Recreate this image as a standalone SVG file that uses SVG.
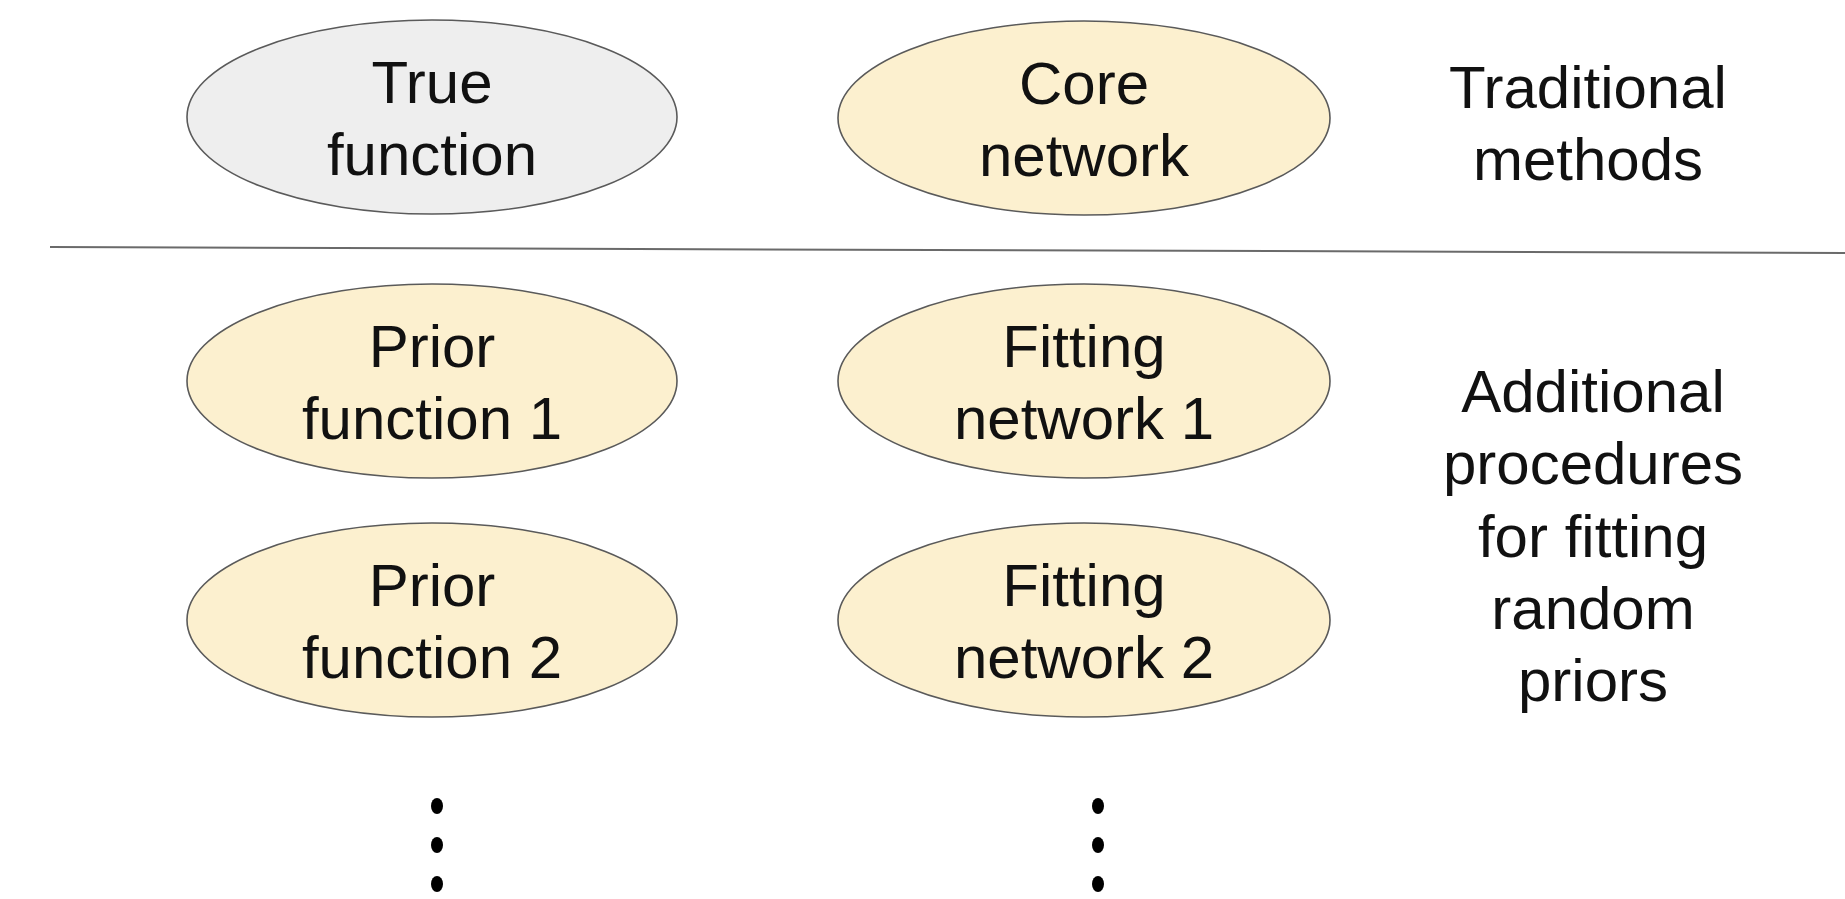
<svg xmlns="http://www.w3.org/2000/svg" width="1845" height="899" viewBox="0 0 1845 899">
<style>
.node{stroke:#5a5a5a;stroke-width:1.6}
.gray{fill:#eeeeee}
.yel{fill:#fcf0cf}
text{font-family:"Liberation Sans",Arial,sans-serif;font-size:60px;fill:#111;text-anchor:middle}
.dot{fill:#000}
</style>
<rect width="1845" height="899" fill="#ffffff"/>
<g id="true-function">
<ellipse class="node gray" cx="432" cy="117" rx="245" ry="97"/>
<text x="432" y="103">True</text>
<text x="432" y="175">function</text>
</g>
<g id="core-network">
<ellipse class="node yel" cx="1084" cy="118" rx="246" ry="97"/>
<text x="1084" y="104">Core</text>
<text x="1084" y="176">network</text>
</g>
<g id="traditional-label">
<text x="1588" y="108">Traditional</text>
<text x="1588" y="180">methods</text>
</g>
<g id="divider">
<line x1="50" y1="247" x2="1845" y2="253" stroke="#6a6a6a" stroke-width="2"/>
</g>
<g id="prior-function-1">
<ellipse class="node yel" cx="432" cy="381" rx="245" ry="97"/>
<text x="432" y="367">Prior</text>
<text x="432" y="439">function 1</text>
</g>
<g id="fitting-network-1">
<ellipse class="node yel" cx="1084" cy="381" rx="246" ry="97"/>
<text x="1084" y="367">Fitting</text>
<text x="1084" y="439">network 1</text>
</g>
<g id="prior-function-2">
<ellipse class="node yel" cx="432" cy="620" rx="245" ry="97"/>
<text x="432" y="606">Prior</text>
<text x="432" y="678">function 2</text>
</g>
<g id="fitting-network-2">
<ellipse class="node yel" cx="1084" cy="620" rx="246" ry="97"/>
<text x="1084" y="606">Fitting</text>
<text x="1084" y="678">network 2</text>
</g>
<g id="additional-label">
<text x="1593" y="412">Additional</text>
<text x="1593" y="484">procedures</text>
<text x="1593" y="557">for fitting</text>
<text x="1593" y="629">random</text>
<text x="1593" y="701">priors</text>
</g>
<g id="ellipsis-left">
<ellipse class="dot" cx="437" cy="806" rx="6" ry="8"/>
<ellipse class="dot" cx="437" cy="845" rx="6" ry="8"/>
<ellipse class="dot" cx="437" cy="884" rx="6" ry="8"/>
</g>
<g id="ellipsis-right">
<ellipse class="dot" cx="1098" cy="806" rx="6" ry="8"/>
<ellipse class="dot" cx="1098" cy="845" rx="6" ry="8"/>
<ellipse class="dot" cx="1098" cy="884" rx="6" ry="8"/>
</g>
<g id="connectors"></g>
</svg>
